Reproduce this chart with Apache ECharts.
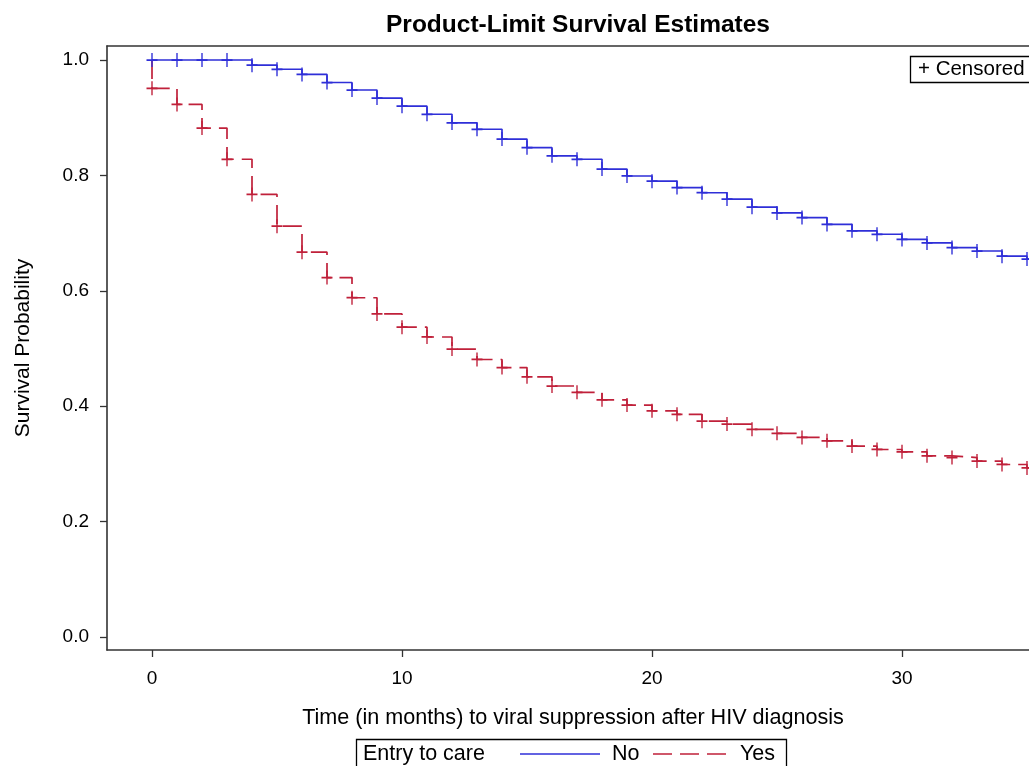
<!DOCTYPE html>
<html>
<head>
<meta charset="utf-8">
<script src="https://cdn.jsdelivr.net/npm/echarts@6/dist/echarts.min.js"></script>
<style>
html,body{margin:0;padding:0;background:#fff}
#main{width:1029px;height:766px}
</style>
</head>
<body>
<div id="main"></div>
<script>
// months since diagnosis (censor marks sit at every month)
var months=[0,1,2,3,4,5,6,7,8,9,10,11,12,13,14,15,16,17,18,19,20,21,22,23,24,25,26,27,28,29,30,31,32,33,34,35,36];
// entry to care = No
var survNo=[1.0,1.0,1.0,1.0,0.991,0.984,0.975,0.961,0.948,0.934,0.920,0.906,0.891,0.880,0.863,0.848,0.834,0.828,0.811,0.799,0.790,0.779,0.770,0.759,0.745,0.735,0.727,0.715,0.704,0.698,0.689,0.683,0.675,0.669,0.660,0.655,0.655];
// entry to care = Yes (drops right at time 0)
var survYes=[0.951,0.923,0.882,0.828,0.767,0.712,0.667,0.623,0.588,0.560,0.537,0.520,0.499,0.481,0.467,0.451,0.435,0.424,0.411,0.402,0.392,0.386,0.374,0.369,0.360,0.353,0.346,0.340,0.331,0.325,0.321,0.314,0.311,0.305,0.299,0.293,0.293];
var startProb=1.0;
var xTicks=[0,10,20,30];
var yTicks=[0,0.2,0.4,0.6,0.8,1.0];

var blue="#2f2fd8";
var red="#c0203a";
var frame="#333";
var font="'Liberation Sans', Arial, sans-serif";
var plus="path://M10.5,0h3v10.5h10.5v3h-10.5v10.5h-3v-10.5h-10.5v-3h10.5z";

function pts(arr){
  return months.map(function(m,i){
    var d={value:[m,arr[i]]};
    if(m>35) d.symbol="none";
    return d;
  });
}
var noData=pts(survNo);
var yesData=[{value:[0,startProb],symbol:"none"}].concat(pts(survYes));

var myChart=echarts.init(document.getElementById("main"));
var option={
  animation:false,
  title:{
    text:"Product-Limit Survival Estimates",
    left:573,top:8,textAlign:"center",
    textStyle:{fontFamily:font,fontSize:24.5,fontWeight:"bold",color:"#000"}
  },
  grid:{left:107,top:46,right:0,height:604,show:false,containLabel:false},
  xAxis:[{
    type:"value",min:-1.8,max:35.08,
    name:"Time (in months) to viral suppression after HIV diagnosis",
    nameLocation:"middle",nameGap:57,
    nameTextStyle:{fontFamily:font,fontSize:21.6,color:"#000",padding:[0,0,0,10]},
    axisLine:{show:true,onZero:false,lineStyle:{color:frame,width:1.6}},
    axisTick:{show:true,length:7,customValues:xTicks,lineStyle:{color:frame,width:1.3}},
    axisLabel:{customValues:xTicks,margin:19,fontFamily:font,fontSize:19,color:"#000"},
    splitLine:{show:false}
  },{
    type:"value",position:"top",min:-1.8,max:35.08,
    axisLine:{show:true,onZero:false,lineStyle:{color:frame,width:1.6}},
    axisTick:{show:false},axisLabel:{show:false},splitLine:{show:false}
  }],
  yAxis:{
    type:"value",min:-0.0225,max:1.0243,
    name:"Survival Probability",
    nameLocation:"middle",nameGap:73,
    nameTextStyle:{fontFamily:font,fontSize:21,color:"#000"},
    axisLine:{show:true,onZero:false,lineStyle:{color:frame,width:1.6}},
    axisTick:{show:true,length:7,customValues:yTicks,lineStyle:{color:frame,width:1.3}},
    axisLabel:{customValues:yTicks,margin:18,fontFamily:font,fontSize:19,color:"#000",
      formatter:function(v){return v.toFixed(1);}},
    splitLine:{show:false}
  },
  series:[
    {
      name:"Yes",type:"line",step:"end",data:yesData,xAxisIndex:0,
      symbol:plus,symbolSize:[11,14],
      lineStyle:{color:red,width:1.7,type:[19,8]},
      itemStyle:{color:red},z:2
    },
    {
      name:"No",type:"line",step:"end",data:noData,xAxisIndex:0,
      symbol:plus,symbolSize:[11,14],
      lineStyle:{color:blue,width:1.7},
      itemStyle:{color:blue},z:3
    }
  ],
  graphic:[
    {type:"rect",shape:{x:910.5,y:56.5,width:200,height:26},style:{fill:"#fff",stroke:"#000",lineWidth:1.3},z:10},
    {type:"text",x:918,y:69.5,style:{text:"+ Censored",fontFamily:font,fontSize:20.5,fill:"#000",verticalAlign:"middle"},z:11},
    {type:"rect",shape:{x:356.5,y:739.5,width:430,height:40},style:{fill:"#fff",stroke:"#000",lineWidth:1.3},z:10},
    {type:"text",x:363,y:754,style:{text:"Entry to care",fontFamily:font,fontSize:21.5,fill:"#000",verticalAlign:"middle"},z:11},
    {type:"line",shape:{x1:520,y1:754,x2:600,y2:754},style:{stroke:blue,lineWidth:1.7},z:11},
    {type:"text",x:612,y:754,style:{text:"No",fontFamily:font,fontSize:21.5,fill:"#000",verticalAlign:"middle"},z:11},
    {type:"line",shape:{x1:653,y1:754,x2:728,y2:754},style:{stroke:red,lineWidth:1.7,lineDash:[19,8]},z:11},
    {type:"text",x:740,y:754,style:{text:"Yes",fontFamily:font,fontSize:21.5,fill:"#000",verticalAlign:"middle"},z:11}
  ]
};
myChart.setOption(option);
</script>
</body>
</html>
